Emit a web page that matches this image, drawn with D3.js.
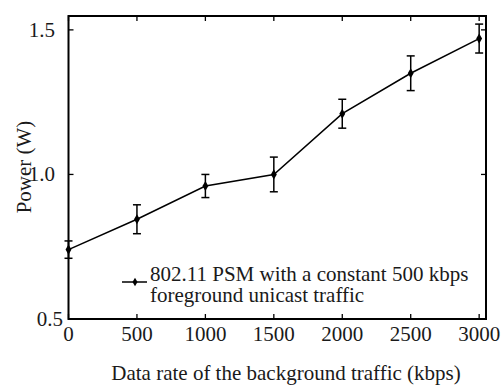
<!DOCTYPE html>
<html>
<head>
<meta charset="utf-8">
<script src="https://cdn.jsdelivr.net/npm/d3@7"></script>
<style>
  body { margin:0; background:#fff; }
  svg { display:block; }
  text { font-family: "Liberation Serif", "Times New Roman", serif; fill:#1a1a1a; }
</style>
</head>
<body>
<svg id="chart" width="502" height="385"></svg>
<script>
// data
var rates  = [0, 500, 1000, 1500, 2000, 2500, 3000];      // kbps
var power  = [0.74, 0.845, 0.96, 1.0, 1.21, 1.35, 1.47];  // W
var errs   = [0.03, 0.05, 0.04, 0.06, 0.05, 0.06, 0.05];
var xTicks = [0, 500, 1000, 1500, 2000, 2500, 3000];
var yTicks = [0.5, 1.0, 1.5];
var legendLines = ["802.11 PSM with a constant 500 kbps", "foreground unicast traffic"];

var svg = d3.select("#chart");
var L = 68.5, R = 486, T = 16, B = 319;

var x = d3.scaleLinear().domain([0, 3050]).range([L, R]);
var y = d3.scaleLinear().domain([0.5, 1.548]).range([B, T]);

var fs = 21;

// ticks (inward, on all four sides)
var tk = 5;
var g = svg.append("g").attr("stroke", "#000").attr("stroke-width", 1.3);
xTicks.forEach(function(v){
  g.append("line").attr("x1", x(v)).attr("x2", x(v)).attr("y1", B).attr("y2", B - tk);
  g.append("line").attr("x1", x(v)).attr("x2", x(v)).attr("y1", T).attr("y2", T + tk);
});
yTicks.forEach(function(v){
  g.append("line").attr("y1", y(v)).attr("y2", y(v)).attr("x1", L).attr("x2", L + tk);
  g.append("line").attr("y1", y(v)).attr("y2", y(v)).attr("x1", R).attr("x2", R - tk);
});

// frame
svg.append("rect").attr("x", L).attr("y", T).attr("width", R - L).attr("height", B - T)
  .attr("fill", "none").attr("stroke", "#000").attr("stroke-width", 2);

// tick labels
svg.append("g").selectAll("text").data(xTicks).enter().append("text")
  .attr("x", function(d){ return x(d); }).attr("y", 341)
  .attr("text-anchor", "middle").attr("font-size", fs)
  .text(function(d){ return d; });
svg.append("g").selectAll("text").data(yTicks).enter().append("text")
  .attr("x", function(d){ return d == 0.5 ? 63 : 55; })
  .attr("y", function(d){ return y(d); }).attr("dy", "0.33em")
  .attr("text-anchor", "end").attr("font-size", fs)
  .text(function(d){ return d3.format(".1f")(d); });

// axis labels
svg.append("text").attr("x", 286).attr("y", 380).attr("text-anchor", "middle")
  .attr("font-size", fs).text("Data rate of the background traffic (kbps)");
svg.append("text").attr("transform", "translate(31,167) rotate(-90)")
  .attr("text-anchor", "middle").attr("font-size", fs).text("Power (W)");

// error bars
var cw = 4;
var eb = svg.append("g").attr("stroke", "#000").attr("stroke-width", 1.5);
rates.forEach(function(r, i){
  var cx = x(r), y0 = y(power[i] - errs[i]), y1 = y(power[i] + errs[i]);
  eb.append("line").attr("x1", cx).attr("x2", cx).attr("y1", y0).attr("y2", y1);
  eb.append("line").attr("x1", cx - cw).attr("x2", cx + cw).attr("y1", y0).attr("y2", y0);
  eb.append("line").attr("x1", cx - cw).attr("x2", cx + cw).attr("y1", y1).attr("y2", y1);
});

// line
var line = d3.line().x(function(d){ return x(d[0]); }).y(function(d){ return y(d[1]); });
svg.append("path").datum(rates.map(function(r, i){ return [r, power[i]]; }))
  .attr("d", line).attr("fill", "none").attr("stroke", "#000").attr("stroke-width", 1.5);

// markers
var diamond = d3.symbol().type(d3.symbolDiamond).size(30);
svg.append("g").selectAll("path").data(rates).enter().append("path")
  .attr("d", diamond)
  .attr("transform", function(d, i){ return "translate(" + x(d) + "," + y(power[i]) + ")"; })
  .attr("fill", "#000");

// legend
var ly = 282;
svg.append("line").attr("x1", 122).attr("x2", 147).attr("y1", ly).attr("y2", ly)
  .attr("stroke", "#000").attr("stroke-width", 1.5);
svg.append("path").attr("d", d3.symbol().type(d3.symbolDiamond).size(22)())
  .attr("transform", "translate(135," + ly + ")").attr("fill", "#000");
svg.append("g").selectAll("text").data(legendLines).enter().append("text")
  .attr("x", 150).attr("y", function(d, i){ return 280.5 + i * 21; })
  .attr("font-size", fs).text(function(d){ return d; });
</script>
</body>
</html>
